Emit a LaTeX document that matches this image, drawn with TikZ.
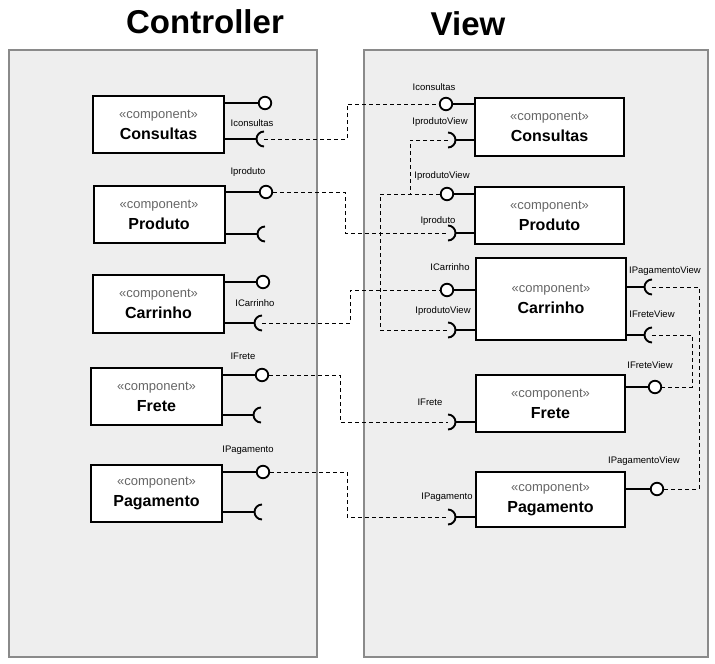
\documentclass[tikz,border=0pt]{standalone}
\usepackage{fontspec}
\setmainfont{Liberation Sans}
\definecolor{panelfill}{HTML}{EEEEEE}
\definecolor{panelline}{HTML}{8A8A8A}
\definecolor{stereo}{HTML}{666666}
\begin{document}
\begin{tikzpicture}[x=1pt,y=1pt,
  panel/.style={draw=panelline,fill=panelfill,line width=1.2pt},
  title/.style={font=\bfseries\fontsize{33}{36}\selectfont,anchor=base},
  comp/.style={draw,fill=white,line width=2pt,minimum width=131pt,minimum height=57pt,
    align=center,inner sep=0pt,font=\fontsize{13}{21}\selectfont},
  rcomp/.style={comp,minimum width=149pt},
  lolli/.style={circle,draw,fill=white,line width=1.8pt,minimum size=12.5pt,inner sep=0pt},
  conn/.style={line width=1.9pt},
  dep/.style={line width=1pt,dash pattern=on 4pt off 3pt},
  lbl/.style={font=\fontsize{9.5}{10}\selectfont,inner sep=0pt}]
\newcommand{\cmp}[1]{{\color{stereo}«component»}\\{\bfseries\fontsize{16}{18}\selectfont #1}}
\useasboundingbox (0,0) rectangle (715,-664);
% panels
\node[panel,minimum width=308pt,minimum height=607pt,inner sep=0pt] (lp) at (163,-353.5) {};
\node[panel,minimum width=344pt,minimum height=607pt,inner sep=0pt] (rp) at (536,-353.5) {};
\node[title] (tc) at (205,-33) {Controller};
\node[title] (tv) at (468,-35) {View};
% left components
\node[comp] (lc1) at (158.5,-124.5) {\cmp{Consultas}};
\node[comp] (lc2) at (159,-214.5) {\cmp{Produto}};
\node[comp,minimum height=58pt] (lc3) at (158.5,-304) {\cmp{Carrinho}};
\node[comp] (lc4) at (156.5,-396.5) {\cmp{Frete}};
\node[comp] (lc5) at (156.5,-493.5) {\cmp{Pagamento}};
% right components
\node[rcomp,minimum height=58pt] (rc1) at (549.5,-127) {\cmp{Consultas}};
\node[rcomp] (rc2) at (549.5,-215.5) {\cmp{Produto}};
\node[rcomp,minimum width=150pt,minimum height=82pt] (rc3) at (551,-299) {\cmp{Carrinho}};
\node[rcomp] (rc4) at (550.5,-403.5) {\cmp{Frete}};
\node[rcomp,minimum height=55pt] (rc5) at (550.5,-499.5) {\cmp{Pagamento}};
% socket centres
\coordinate (lcs1) at (264,-139);
\coordinate (lcs2) at (265,-234);
\coordinate (lcs3) at (262,-323);
\coordinate (lcs4) at (261,-415);
\coordinate (lcs5) at (262,-512);
\coordinate (rcs1) at (448,-140);
\coordinate (rcs2) at (448,-233);
\coordinate (rcs3) at (448,-330);
\coordinate (rcs4) at (448,-422);
\coordinate (rcs5) at (448,-517);
\coordinate (rcs3a) at (652,-287);
\coordinate (rcs3b) at (652,-335);
% sockets "("
\foreach \c/\b in {lcs1/lc1,lcs2/lc2,lcs3/lc3,lcs4/lc4,lcs5/lc5,rcs3a/rc3,rcs3b/rc3}{
  \draw[conn] (\b.east |- \c) -- ([xshift=-7pt]\c);
  \draw[conn] ([yshift=7.5pt]\c) arc[start angle=90,end angle=270,radius=7.5pt];
}
% sockets ")"
\foreach \c/\b in {rcs1/rc1,rcs2/rc2,rcs3/rc3,rcs4/rc4,rcs5/rc5}{
  \draw[conn] (\b.west |- \c) -- ([xshift=7pt]\c);
  \draw[conn] ([yshift=7.5pt]\c) arc[start angle=90,end angle=-90,radius=7.5pt];
}
% lollipops
\node[lolli] (lcl1) at (265,-103) {};
\node[lolli] (lcl2) at (266,-192) {};
\node[lolli] (lcl3) at (263,-282) {};
\node[lolli] (lcl4) at (262,-375) {};
\node[lolli] (lcl5) at (263,-472) {};
\node[lolli] (rcl1) at (446,-104) {};
\node[lolli] (rcl2) at (447,-194) {};
\node[lolli] (rcl3) at (447,-290) {};
\node[lolli] (rcl4) at (655,-387) {};
\node[lolli] (rcl5) at (657,-489) {};
\foreach \l/\b in {lcl1/lc1,lcl2/lc2,lcl3/lc3,lcl4/lc4,lcl5/lc5}{
  \draw[conn] (\b.east |- \l) -- (\l);
}
\foreach \l/\b in {rcl1/rc1,rcl2/rc2,rcl3/rc3}{
  \draw[conn] (\b.west |- \l) -- (\l);
}
\foreach \l/\b in {rcl4/rc4,rcl5/rc5}{
  \draw[conn] (\b.east |- \l) -- (\l);
}
% labels
\node[lbl] (t1) at (252,-123) {Iconsultas};
\node[lbl] (t2) at (248,-172) {Iproduto};
\node[lbl] (t3) at (255,-303) {ICarrinho};
\node[lbl] (t4) at (243,-356) {IFrete};
\node[lbl] (t5) at (248,-450) {IPagamento};
\node[lbl] (t6) at (434,-87) {Iconsultas};
\node[lbl] (t7) at (440,-122) {IprodutoView};
\node[lbl] (t8) at (442,-176) {IprodutoView};
\node[lbl] (t9) at (438,-221) {Iproduto};
\node[lbl] (t10) at (450,-267) {ICarrinho};
\node[lbl] (t11) at (443,-311) {IprodutoView};
\node[lbl] (t12) at (665,-271) {IPagamentoView};
\node[lbl] (t13) at (652,-314) {IFreteView};
\node[lbl] (t14) at (650,-365) {IFreteView};
\node[lbl] (t15) at (430,-402) {IFrete};
\node[lbl] (t16) at (644,-461) {IPagamentoView};
\node[lbl] (t17) at (447,-497) {IPagamento};
% dashed dependencies
\draw[dep] (lcs1) -- ++(83,0) |- (rcl1);
\draw[dep] (lcl2) -- ++(79,0) |- (rcs2);
\draw[dep] (lcs3) -- ++(88,0) |- (rcl3);
\draw[dep] (lcl4) -- ++(78,0) |- (rcs4);
\draw[dep] (lcl5) -- ++(84,0) |- (rcs5);
\coordinate (j1) at (410,-194);
\draw[dep] (rcl2) -- ++(-67,0) |- (rcs3);
\draw[dep] (rcs1) -| (j1);
\draw[dep] (rcs3a) -- ++(47,0) |- (rcl5);
\draw[dep] (rcs3b) -- ++(40,0) |- (rcl4);
\end{tikzpicture}
\end{document}
